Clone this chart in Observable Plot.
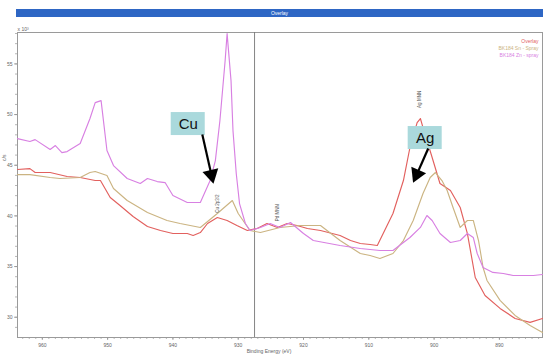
<!DOCTYPE html>
<html><head><meta charset="utf-8">
<script src="https://cdn.jsdelivr.net/npm/d3@7"></script>
<script src="https://cdn.jsdelivr.net/npm/@observablehq/plot@0.6"></script>
<style>
body{margin:0;background:#fff;font-family:"Liberation Sans",Arial,sans-serif;}
#wrap{position:relative;width:550px;height:355px;}
#title{position:absolute;left:16px;top:9px;width:527px;height:8px;background:#2e66c4;color:#fff;font-size:5px;line-height:8px;text-align:center;}
#wrap svg{position:absolute;left:0;top:0;}
</style></head><body><div id="wrap"><div id="title">Overlay</div></div>
<script>
// ---- data (binding energy eV, counts x10^3) ----
const seriesNames = ["Overlay", "BK184 Sn - Spray", "BK184 Zn - spray"];
const seriesColors = ["#e2605e", "#cbb482", "#d880e2"];
const overlay = [[963.8,44.58],[961.9,44.67],[961.1,44.28],[958.8,44.28],[956.2,43.89],[954.2,43.79],[951.9,43.49],[951.1,43.49],[949.6,41.81],[948.1,41.03],[946.1,39.94],[943.9,38.95],[941.9,38.56],[940.0,38.26],[937.8,38.26],[936.9,38.07],[935.8,38.36],[934.7,39.25],[933.2,39.84],[931.7,39.55],[930.2,39.05],[928.6,38.56],[927.1,38.76],[925.6,39.25],[924.0,38.86],[922.5,39.25],[921.0,39.05],[919.4,38.76],[917.4,38.56],[914.4,38.07],[912.8,37.57],[911.3,37.28],[909.8,37.18],[908.7,37.08],[907.8,38.26],[906.3,40.24],[904.7,43.49],[903.7,46.75],[902.6,49.21],[902.1,49.61],[901.7,48.72],[900.3,45.76],[899.1,43.2],[897.5,42.51],[896.0,40.83],[894.9,38.26],[893.7,33.92],[892.2,32.15],[889.9,30.87],[887.6,29.88],[885.3,29.49],[883.4,29.88]];
const snSpray = [[963.8,44.08],[961.9,44.08],[958.8,43.79],[957.3,43.69],[954.2,43.79],[952.7,44.28],[951.9,44.38],[950.1,43.98],[949.1,42.7],[947.0,41.52],[943.9,40.34],[940.9,39.55],[938.9,39.25],[935.8,38.86],[933.2,40.24],[930.9,41.52],[930.0,40.24],[928.2,38.56],[926.6,38.36],[923.6,38.86],[920.5,39.05],[917.4,39.05],[914.4,37.57],[911.3,36.29],[909.8,36.09],[908.3,35.8],[906.3,36.29],[904.7,37.57],[903.2,39.55],[901.7,42.21],[900.6,43.79],[899.8,44.28],[898.8,43.49],[898.0,42.51],[897.1,40.83],[896.0,38.86],[894.9,39.55],[894.0,39.55],[893.2,37.57],[892.5,34.91],[891.9,33.63],[889.9,31.66],[887.6,30.18],[885.3,29.19],[883.4,28.5]];
const znSpray = [[963.8,47.63],[961.9,47.34],[961.1,47.53],[958.8,46.55],[958.0,46.94],[957.0,46.25],[956.2,46.35],[954.2,47.14],[952.7,49.61],[951.9,51.18],[951.0,51.38],[950.1,46.45],[949.1,44.97],[947.0,43.69],[945.0,43.2],[943.9,43.69],[942.4,43.39],[941.2,43.29],[940.0,42.01],[937.8,41.32],[935.8,41.32],[934.3,43.49],[933.5,45.46],[932.8,49.41],[932.0,55.33],[931.7,57.99],[931.1,53.35],[930.8,48.42],[930.3,44.18],[929.8,41.22],[928.9,39.25],[928.2,38.56],[926.6,38.86],[925.1,39.25],[923.6,38.86],[922.0,39.35],[920.0,38.26],[918.5,37.57],[914.4,37.08],[911.3,36.78],[908.3,36.59],[906.3,36.59],[903.7,37.87],[902.1,38.86],[901.1,40.04],[900.3,39.55],[899.1,38.26],[897.5,37.38],[896.0,37.57],[894.9,38.26],[894.0,37.87],[893.4,36.29],[892.5,34.91],[891.0,34.42],[889.4,34.32],[887.9,34.12],[886.4,34.12],[884.8,34.12],[883.4,34.22]];
const xTicks = [960, 950, 940, 930, 920, 910, 900, 890];
const yTicks = [30, 35, 40, 45, 50, 55];
const markerLine = [927.5];
const peakLabels = [{ev: 933.2, c: 41.2, text: "Cu 2p3/2"}, {ev: 924.0, c: 40.3, text: "Pd MNN"}, {ev: 902.3, c: 51.5, text: "Ag MNN"}];
const boxes = [{text: "Cu", ev1: 940.26, ev2: 935.05, c1: 47.93, c2: 50.2}, {text: "Ag", ev1: 903.97, ev2: 898.76, c1: 46.55, c2: 48.82}];
const arrows = [{ev1: 935.5, c1: 48.03, ev2: 933.8, c2: 43.2}, {ev1: 900.9, c1: 46.65, ev2: 903.2, c2: 43.29}];

// ---- layout ----
const W = 550, H = 355, mL = 17, mR = 8, mT = 32, mB = 18;
const xDomain = [963.8, 883.4], yDomain = [28.0, 58.1];
const xs = d3.scaleLinear(xDomain, [mL, W - mR]);
const ys = d3.scaleLinear(yDomain, [H - mB, mT]);

const rows = [];
[overlay, snSpray, znSpray].forEach((s, i) => s.forEach(([ev, c]) => rows.push({ev, c, series: seriesNames[i]})));

// arrowheads: place triangle so its tip lands at the arrow end
const heads = arrows.map(a => {
  const px1 = xs(a.ev1), py1 = ys(a.c1), px2 = xs(a.ev2), py2 = ys(a.c2);
  const dx = px2 - px1, dy = py2 - py1, len = Math.hypot(dx, dy);
  const ux = dx / len, uy = dy / len;
  const off = 9;
  return {ev: xs.invert(px2 - ux * off), c: ys.invert(py2 - uy * off),
          rot: Math.atan2(dx, -dy) * 180 / Math.PI};
});
const shafts = arrows.map((a, i) => ({ev1: a.ev1, c1: a.c1, ev2: heads[i].ev, c2: heads[i].c}));

const xMinor = d3.range(884, 964, 1);
const yMinor = d3.range(29, 59, 1);
const font = "Liberation Sans, Arial, sans-serif";
const tc = "#666";

const chart = Plot.plot({
  width: W, height: H, marginLeft: mL, marginRight: mR, marginTop: mT, marginBottom: mB,
  style: {fontFamily: font, background: "transparent"},
  x: {domain: xDomain},
  y: {domain: yDomain},
  color: {domain: seriesNames, range: seriesColors},
  marks: [
    Plot.axisX(xMinor, {tickSize: 2, text: null, stroke: "#888", strokeWidth: 0.6}),
    Plot.axisX(xTicks, {tickSize: 3, tickPadding: 3, fontSize: 5, fill: tc, stroke: "#888", strokeWidth: 0.7, label: null}),
    Plot.axisY(yMinor, {tickSize: 2, text: null, stroke: "#888", strokeWidth: 0.6}),
    Plot.axisY(yTicks, {tickSize: 3, tickPadding: 2, fontSize: 5, fill: tc, stroke: "#888", strokeWidth: 0.7, label: null}),
    Plot.frame({stroke: "#9a9a9a", strokeWidth: 1}),
    Plot.ruleX(markerLine, {stroke: "#777", strokeWidth: 0.9}),
    Plot.line(rows, {x: "ev", y: "c", z: "series", stroke: "series", strokeWidth: 1.15}),
    Plot.text(peakLabels, {x: "ev", y: "c", text: "text", rotate: -90, fontSize: 4.5, fill: "#555"}),
    Plot.rect(boxes, {x1: "ev1", x2: "ev2", y1: "c1", y2: "c2", fill: "#aad9dc"}),
    Plot.text(boxes, {x: d => (d.ev1 + d.ev2) / 2, y: d => (d.c1 + d.c2) / 2, text: "text", fontSize: 15, fill: "#111", fontFamily: font}),
    Plot.link(shafts, {x1: "ev1", y1: "c1", x2: "ev2", y2: "c2", stroke: "#000", strokeWidth: 2.2}),
    Plot.dot(heads, {x: "ev", y: "c", symbol: "triangle", r: 6, fill: "#000", stroke: null, rotate: "rot"}),
    ...seriesNames.map((n, i) => Plot.text([n], {frameAnchor: "top-right", text: d => d, dx: -4, dy: 7 + i * 7, fontSize: 5, fill: seriesColors[i], textAnchor: "end"})),
    Plot.text(["Binding Energy (eV)"], {frameAnchor: "bottom", text: d => d, dx: -11, dy: 15, fontSize: 5, fill: tc}),
    Plot.text(["c/s"], {frameAnchor: "left", text: d => d, dx: -13, dy: -24, rotate: -90, fontSize: 5, fill: tc}),
    Plot.text(["x 10³"], {frameAnchor: "top-left", text: d => d, dx: 0, dy: -5, fontSize: 5, fill: tc, textAnchor: "start"})
  ]
});
document.getElementById("wrap").appendChild(chart);
</script>
</body></html>
